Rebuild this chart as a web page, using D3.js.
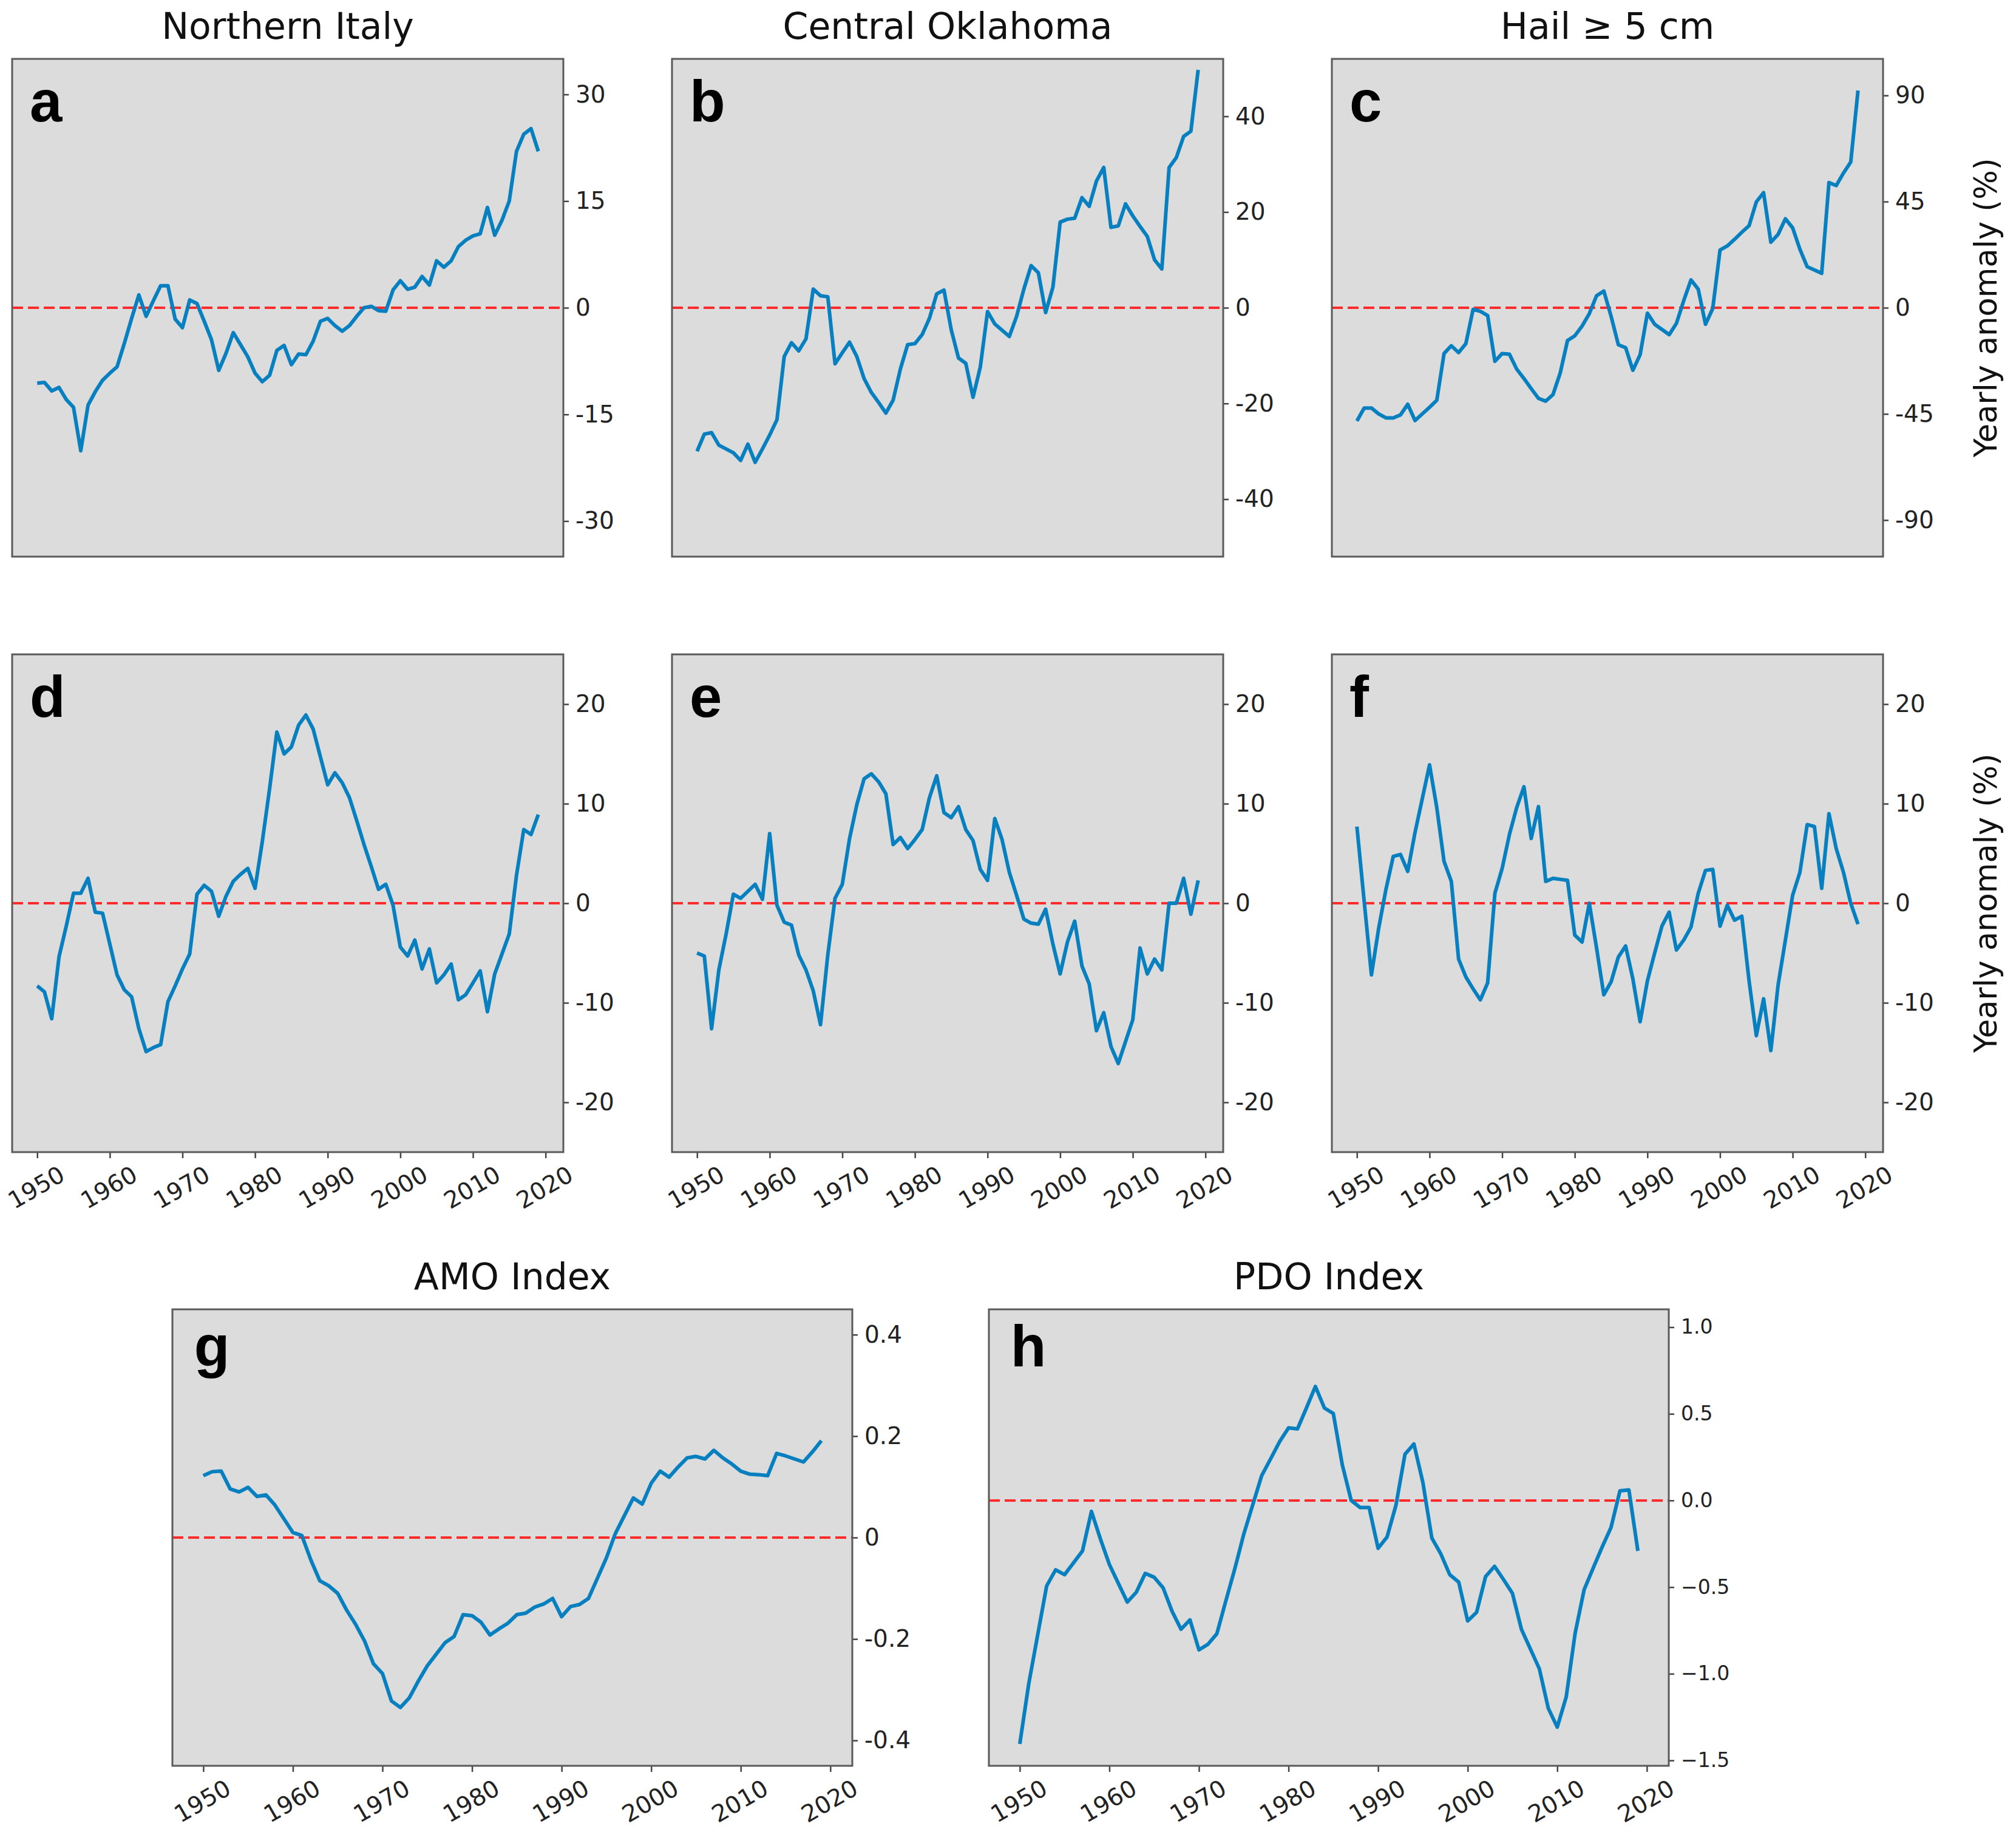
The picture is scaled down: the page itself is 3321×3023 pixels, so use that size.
<!DOCTYPE html>
<html>
<head>
<meta charset="utf-8">
<script src="https://cdn.jsdelivr.net/npm/d3@7"></script>
<style>
	body { margin: 0; background: #fff; }
	svg { display: block; font-family: 'DejaVu Sans', sans-serif; }
	.panel-bg { fill: #dcdcdc; }
	.frame { fill: none; stroke: #5a5a5a; stroke-width: 3; }
	.series { fill: none; stroke: #0880c0; stroke-width: 6; stroke-linejoin: round; }
	.zero-line { stroke: #ff2a2a; stroke-width: 4; stroke-dasharray: 18 8; }
	.axis path { display: none; }
	.axis line { stroke: #444; stroke-width: 2.5; }
	.axis text { fill: #222; font-size: 39px; font-family: 'DejaVu Sans', sans-serif; }
	.panel-title { font-size: 60px; fill: #111; }
	.panel-letter { font-family: 'Liberation Sans', Arial, sans-serif; font-weight: bold; font-size: 96px; fill: #000; }
	.axis-label { font-size: 51px; fill: #111; }
</style>
</head>
<body>
<div id="chart"></div>
<script>
// years on the x axis
const years = [1950, 1951, 1952, 1953, 1954, 1955, 1956, 1957, 1958, 1959,
	1960, 1961, 1962, 1963, 1964, 1965, 1966, 1967, 1968, 1969,
	1970, 1971, 1972, 1973, 1974, 1975, 1976, 1977, 1978, 1979,
	1980, 1981, 1982, 1983, 1984, 1985, 1986, 1987, 1988, 1989,
	1990, 1991, 1992, 1993, 1994, 1995, 1996, 1997, 1998, 1999,
	2000, 2001, 2002, 2003, 2004, 2005, 2006, 2007, 2008, 2009,
	2010, 2011, 2012, 2013, 2014, 2015, 2016, 2017, 2018, 2019];
const yearTicks = [1950, 1960, 1970, 1980, 1990, 2000, 2010, 2020];

// yearly anomaly (%), top row
const italyAnomaly = [-10.6, -10.5, -11.7, -11.2, -12.9, -14.0, -20.1, -13.7, -11.8, -10.2,
	-9.2, -8.3, -5.0, -1.5, 1.8, -1.2, 1.0, 3.1, 3.1, -1.6,
	-2.8, 1.1, 0.6, -1.9, -4.5, -8.8, -6.4, -3.5, -5.2, -6.9,
	-9.2, -10.4, -9.5, -6.0, -5.3, -8.0, -6.5, -6.6, -4.7, -1.9,
	-1.5, -2.5, -3.3, -2.5, -1.2, 0.0, 0.2, -0.4, -0.5, 2.5,
	3.8, 2.6, 2.9, 4.4, 3.2, 6.6, 5.7, 6.6, 8.6, 9.5,
	10.1, 10.4, 14.1, 10.2, 12.3, 15.0, 22.0, 24.4, 25.2, 22.0];
const oklahomaAnomaly = [-30.0, -26.4, -26.1, -28.7, -29.5, -30.3, -31.9, -28.5, -32.3, -29.5,
	-26.6, -23.4, -10.2, -7.3, -9.0, -6.5, 3.9, 2.5, 2.3, -11.7,
	-9.4, -7.2, -10.2, -14.8, -17.7, -19.8, -22.0, -19.3, -12.8, -7.7,
	-7.5, -5.6, -2.2, 2.9, 3.7, -4.6, -10.5, -11.6, -18.7, -12.4,
	-0.8, -3.4, -4.7, -6.0, -1.8, 3.9, 8.8, 7.3, -1.0, 4.3,
	17.9, 18.5, 18.7, 23.0, 21.2, 26.5, 29.3, 16.8, 17.1, 21.7,
	19.2, 17.0, 14.9, 10.0, 8.1, 29.3, 31.4, 35.8, 36.9, 49.7];
const largeHailAnomaly = [-48.0, -42.5, -42.5, -45.0, -46.7, -46.7, -45.4, -40.9, -47.8, -45.0,
	-42.2, -39.2, -19.4, -16.1, -19.0, -15.2, -0.7, -1.5, -3.3, -22.7,
	-19.4, -19.7, -26.0, -30.0, -34.3, -38.4, -39.6, -36.8, -27.6, -13.9,
	-11.9, -7.8, -2.5, 5.1, 7.1, -3.6, -15.7, -16.9, -26.5, -19.9,
	-2.3, -7.0, -9.2, -11.4, -6.6, 3.0, 11.8, 7.9, -7.0, -0.3,
	24.5, 26.2, 29.0, 32.0, 34.8, 44.9, 48.8, 27.8, 31.1, 37.7,
	33.9, 24.8, 17.4, 16.0, 14.6, 53.1, 51.8, 57.1, 61.8, 92.1];

// yearly anomaly (%), middle row
const italyDetrended = [-8.3, -8.9, -11.6, -5.4, -2.3, 1.0, 1.0, 2.5, -0.9, -1.0,
	-4.1, -7.2, -8.7, -9.4, -12.6, -14.9, -14.5, -14.2, -9.9, -8.3,
	-6.6, -5.1, 0.9, 1.8, 1.2, -1.3, 0.7, 2.2, 2.9, 3.5,
	1.5, 6.2, 11.5, 17.2, 15.0, 15.7, 17.9, 18.9, 17.5, 14.7,
	11.9, 13.1, 12.1, 10.6, 8.3, 5.9, 3.7, 1.4, 1.9, -0.2,
	-4.4, -5.3, -3.7, -6.6, -4.6, -8.0, -7.2, -6.1, -9.7, -9.2,
	-8.0, -6.8, -10.9, -7.1, -5.1, -3.1, 2.8, 7.4, 6.9, 8.9];
const oklahomaDetrended = [-5.0, -5.3, -12.6, -6.7, -3.1, 0.9, 0.5, 1.2, 1.9, 0.4,
	7.0, -0.2, -1.9, -2.2, -5.2, -6.7, -8.8, -12.2, -5.2, 0.5,
	1.9, 6.5, 9.9, 12.5, 13.0, 12.2, 11.0, 5.9, 6.6, 5.5,
	6.4, 7.4, 10.6, 12.8, 9.1, 8.6, 9.7, 7.4, 6.3, 3.4,
	2.3, 8.5, 6.4, 3.1, 0.8, -1.6, -2.0, -2.1, -0.6, -4.1,
	-7.1, -3.9, -1.8, -6.3, -8.1, -12.8, -11.0, -14.4, -16.1, -13.9,
	-11.7, -4.5, -7.1, -5.6, -6.7, 0.0, 0.0, 2.5, -1.1, 2.3];
const largeHailDetrended = [7.7, 0.2, -7.2, -2.5, 1.4, 4.7, 4.9, 3.2, 7.1, 10.5,
	13.9, 9.6, 4.2, 2.2, -5.6, -7.4, -8.6, -9.7, -8.0, 1.0,
	3.5, 6.9, 9.6, 11.7, 6.5, 9.7, 2.2, 2.5, 2.4, 2.3,
	-3.2, -3.9, 0.0, -4.5, -9.2, -7.9, -5.4, -4.3, -7.6, -11.9,
	-7.8, -5.0, -2.3, -0.9, -4.7, -3.7, -2.4, 1.0, 3.3, 3.4,
	-2.3, -0.2, -1.7, -1.3, -7.8, -13.3, -9.6, -14.8, -8.2, -3.7,
	0.8, 3.1, 7.9, 7.7, 1.5, 9.0, 5.5, 3.1, 0.0, -2.1];

// climate indices, bottom row
const amoIndex = [0.122, 0.130, 0.131, 0.096, 0.090, 0.099, 0.081, 0.084, 0.064, 0.037,
	0.010, 0.004, -0.044, -0.085, -0.095, -0.110, -0.143, -0.171, -0.204, -0.249,
	-0.268, -0.322, -0.335, -0.316, -0.283, -0.253, -0.230, -0.207, -0.195, -0.152,
	-0.154, -0.167, -0.192, -0.180, -0.169, -0.152, -0.149, -0.137, -0.131, -0.120,
	-0.156, -0.136, -0.132, -0.120, -0.080, -0.040, 0.008, 0.043, 0.078, 0.066,
	0.107, 0.131, 0.119, 0.139, 0.157, 0.160, 0.155, 0.172, 0.157, 0.145,
	0.131, 0.125, 0.124, 0.122, 0.166, 0.161, 0.155, 0.149, 0.169, 0.191];
const pdoIndex = [-1.405, -1.058, -0.775, -0.493, -0.400, -0.428, -0.360, -0.291, -0.063, -0.222,
	-0.369, -0.478, -0.586, -0.530, -0.421, -0.443, -0.504, -0.639, -0.743, -0.689,
	-0.862, -0.830, -0.769, -0.580, -0.395, -0.195, -0.026, 0.143, 0.240, 0.339,
	0.419, 0.413, 0.534, 0.658, 0.534, 0.502, 0.206, 0.000, -0.041, -0.041,
	-0.276, -0.211, -0.026, 0.267, 0.326, 0.104, -0.217, -0.308, -0.428, -0.471,
	-0.695, -0.645, -0.439, -0.380, -0.456, -0.536, -0.743, -0.857, -0.971, -1.199,
	-1.308, -1.134, -0.765, -0.515, -0.391, -0.270, -0.156, 0.056, 0.061, -0.291];

// y tick values per panel
const ticksItaly = [-30, -15, 0, 15, 30];
const ticksOklahoma = [-40, -20, 0, 20, 40];
const ticksLargeHail = [-90, -45, 0, 45, 90];
const ticksDetrended = [-20, -10, 0, 10, 20];
const ticksAmo = [-0.4, -0.2, 0, 0.2, 0.4];
const ticksPdo = [-1.5, -1.0, -0.5, 0, 0.5, 1.0];

class AnomalyPanel {
	constructor(_config, _values) {
		this.config = {
			svg: _config.svg,
			left: _config.left,
			top: _config.top,
			width: _config.width,
			height: _config.height,
			letter: _config.letter,
			title: _config.title || null,
			yDomain: _config.yDomain,
			yTicks: _config.yTicks,
			yFormat: _config.yFormat || (d => d),
			yFontSize: _config.yFontSize || 39,
			showXAxis: _config.showXAxis || false,
		}

		this.values = _values;

		this.initVis();
	}

	initVis() {
		const vis = this;
		const cfg = vis.config;

		vis.g = cfg.svg.append('g').attr('transform', `translate(${cfg.left}, ${cfg.top})`);

		// matplotlib style margins around 1950-2019
		vis.xScale = d3.scaleLinear().domain([1946.55, 2022.45]).range([0, cfg.width]);
		vis.yScale = d3.scaleLinear().domain(cfg.yDomain).range([cfg.height, 0]);

		vis.g.append('rect').attr('class', 'panel-bg').attr('width', cfg.width).attr('height', cfg.height);

		vis.yAxis = d3.axisRight(vis.yScale).tickValues(cfg.yTicks).tickSize(9).tickPadding(11).tickFormat(cfg.yFormat);
		vis.yAxisG = vis.g.append('g').attr('class', 'axis y-axis').attr('transform', `translate(${cfg.width}, 0)`);

		if (cfg.showXAxis) {
			vis.xAxis = d3.axisBottom(vis.xScale).tickValues(yearTicks).tickSize(10).tickFormat(d3.format('d'));
			vis.xAxisG = vis.g.append('g').attr('class', 'axis x-axis').attr('transform', `translate(0, ${cfg.height})`);
		}

		if (cfg.title) {
			vis.g.append('text')
				.attr('class', 'panel-title')
				.attr('text-anchor', 'middle')
				.attr('x', cfg.width / 2)
				.attr('y', -33)
				.text(cfg.title);
		}

		vis.renderVis();
	}

	renderVis() {
		const vis = this;
		const cfg = vis.config;

		// dashed zero reference
		vis.g.append('line')
			.attr('class', 'zero-line')
			.attr('x1', 0)
			.attr('x2', cfg.width)
			.attr('y1', vis.yScale(0))
			.attr('y2', vis.yScale(0));

		const line = d3.line()
			.x((d, i) => vis.xScale(years[i]))
			.y(d => vis.yScale(d));

		vis.g.append('path')
			.datum(vis.values)
			.attr('class', 'series')
			.attr('d', line);

		vis.g.append('rect').attr('class', 'frame').attr('width', cfg.width).attr('height', cfg.height);

		vis.g.append('text')
			.attr('class', 'panel-letter')
			.attr('x', cfg.width * 0.032)
			.attr('y', cfg.height * 0.125)
			.text(cfg.letter);

		vis.yAxisG.call(vis.yAxis);
		vis.yAxisG.selectAll('text').style('font-size', cfg.yFontSize + 'px');

		if (cfg.showXAxis) {
			vis.xAxisG.call(vis.xAxis);
			vis.xAxisG.selectAll('text')
				.attr('y', 0)
				.attr('dy', '0.35em')
				.attr('transform', 'translate(-2, 58) rotate(-30)')
				.style('text-anchor', 'middle');
		}
	}
}

const svg = d3.select('#chart').append('svg').attr('width', 3321).attr('height', 3023);
svg.append('rect').attr('width', 3321).attr('height', 3023).attr('fill', '#fff');

const rowW = 908, rowH = 820;
const colX = [20, 1107, 2194];
const rowY = [97, 1078];

new AnomalyPanel({ svg, left: colX[0], top: rowY[0], width: rowW, height: rowH, letter: 'a', title: 'Northern Italy', yDomain: [-35, 35], yTicks: ticksItaly }, italyAnomaly);
new AnomalyPanel({ svg, left: colX[1], top: rowY[0], width: rowW, height: rowH, letter: 'b', title: 'Central Oklahoma', yDomain: [-52, 52], yTicks: ticksOklahoma }, oklahomaAnomaly);
new AnomalyPanel({ svg, left: colX[2], top: rowY[0], width: rowW, height: rowH, letter: 'c', title: 'Hail \u2265 5 cm', yDomain: [-105.5, 105.5], yTicks: ticksLargeHail }, largeHailAnomaly);

new AnomalyPanel({ svg, left: colX[0], top: rowY[1], width: rowW, height: rowH, letter: 'd', yDomain: [-25, 25], yTicks: ticksDetrended, showXAxis: true }, italyDetrended);
new AnomalyPanel({ svg, left: colX[1], top: rowY[1], width: rowW, height: rowH, letter: 'e', yDomain: [-25, 25], yTicks: ticksDetrended, showXAxis: true }, oklahomaDetrended);
new AnomalyPanel({ svg, left: colX[2], top: rowY[1], width: rowW, height: rowH, letter: 'f', yDomain: [-25, 25], yTicks: ticksDetrended, showXAxis: true }, largeHailDetrended);

new AnomalyPanel({
	svg, left: 284, top: 2157, width: 1120, height: 752, letter: 'g', title: 'AMO Index',
	yDomain: [-0.45, 0.45], yTicks: ticksAmo, showXAxis: true,
	yFormat: d => d === 0 ? '0' : d.toFixed(1),
}, amoIndex);
new AnomalyPanel({
	svg, left: 1629, top: 2157, width: 1120, height: 752, letter: 'h', title: 'PDO Index',
	yDomain: [-1.531, 1.103], yTicks: ticksPdo, showXAxis: true, yFontSize: 33,
	yFormat: d => (d < 0 ? '\u2212' : '') + Math.abs(d).toFixed(1),
}, pdoIndex);

// shared y labels for the two top rows
[rowY[0], rowY[1]].forEach(top => {
	svg.append('text')
		.attr('class', 'axis-label')
		.attr('text-anchor', 'middle')
		.attr('dominant-baseline', 'central')
		.attr('transform', `translate(3271, ${top + rowH / 2}) rotate(-90)`)
		.text('Yearly anomaly (%)');
});
</script>
</body>
</html>
